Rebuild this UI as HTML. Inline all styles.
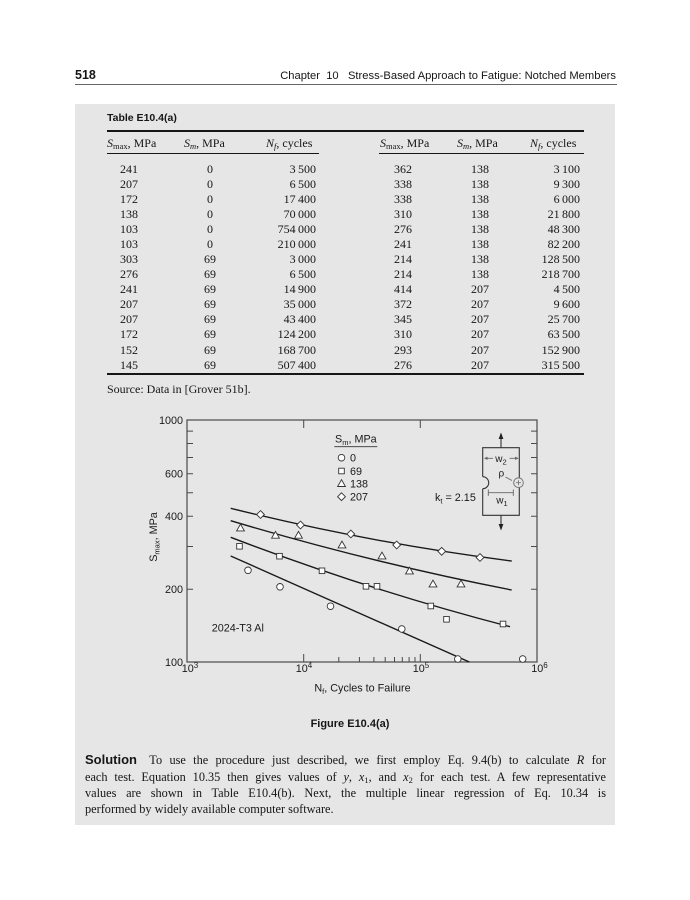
<!DOCTYPE html>
<html><head><meta charset="utf-8">
<style>
html,body{margin:0;padding:0;background:#fff;}
#pg{position:relative;width:690px;height:900px;overflow:hidden;background:#fff;color:#161616;}
.a{position:absolute;white-space:nowrap;}
.sans{font-family:"Liberation Sans",sans-serif;}
.serif{font-family:"Liberation Serif",serif;}
#box{position:absolute;left:75px;top:104px;width:540px;height:721px;background:#e6e6e6;}
.rule{position:absolute;background:#161616;}
.row{position:absolute;left:0;width:690px;height:15px;font-family:"Liberation Serif",serif;font-size:12px;line-height:15px;}
.row span{position:absolute;top:0;white-space:nowrap;}
.c1{left:112px;width:34px;text-align:center;}
.c2{left:193px;width:34px;text-align:center;}
.c3{left:240px;width:76px;text-align:right;}
.c4{left:386px;width:34px;text-align:center;}
.c5{left:463px;width:34px;text-align:center;}
.c6{left:504px;width:76px;text-align:right;}
.hd span{position:absolute;top:0;white-space:nowrap;}
sub.s{font-size:8.5px;vertical-align:-2px;line-height:0;}
.para{position:absolute;left:85px;width:521px;font-family:"Liberation Serif",serif;font-size:12.3px;line-height:16px;text-align:justify;text-align-last:justify;color:#161616;}
.para sub{font-size:8.5px;vertical-align:-2px;line-height:0;}
svg text{font-family:"Liberation Sans",sans-serif;fill:#1a1a1a;}
</style></head>
<body>
<div id="pg">
  <!-- header -->
  <div class="a sans" style="left:75px;top:67px;font-size:12.5px;font-weight:bold;line-height:16px;">518</div>
  <div class="a sans" style="right:74px;top:69px;font-size:11.2px;line-height:14px;white-space:pre;">Chapter  10   Stress-Based Approach to Fatigue: Notched Members</div>
  <div class="rule" style="left:75px;top:83.5px;width:542px;height:1.2px;background:#666;"></div>

  <div id="box"></div>

  <!-- table -->
  <div class="a sans" style="left:107px;top:111px;font-size:10.5px;font-weight:bold;line-height:14px;">Table E10.4(a)</div>
  <div class="rule" style="left:107px;top:130.3px;width:477px;height:1.5px;"></div>
  <div class="row hd" style="top:135.5px;">
    <span style="left:107px;"><i>S</i><sub class="s">max</sub>, MPa</span>
    <span style="left:184px;"><i>S<sub class="s">m</sub></i>, MPa</span>
    <span style="left:266px;"><i>N<sub class="s">f</sub></i>, cycles</span>
    <span style="left:380px;"><i>S</i><sub class="s">max</sub>, MPa</span>
    <span style="left:457px;"><i>S<sub class="s">m</sub></i>, MPa</span>
    <span style="left:530px;"><i>N<sub class="s">f</sub></i>, cycles</span>
  </div>
  <div class="rule" style="left:107px;top:152.5px;width:212px;height:1px;"></div>
  <div class="rule" style="left:379px;top:152.5px;width:205px;height:1px;"></div>

  <div class="row" style="top:161.5px;"><span class="c1">241</span><span class="c2">0</span><span class="c3">3&#8201;500</span><span class="c4">362</span><span class="c5">138</span><span class="c6">3&#8201;100</span></div>
  <div class="row" style="top:176.6px;"><span class="c1">207</span><span class="c2">0</span><span class="c3">6&#8201;500</span><span class="c4">338</span><span class="c5">138</span><span class="c6">9&#8201;300</span></div>
  <div class="row" style="top:191.7px;"><span class="c1">172</span><span class="c2">0</span><span class="c3">17&#8201;400</span><span class="c4">338</span><span class="c5">138</span><span class="c6">6&#8201;000</span></div>
  <div class="row" style="top:206.7px;"><span class="c1">138</span><span class="c2">0</span><span class="c3">70&#8201;000</span><span class="c4">310</span><span class="c5">138</span><span class="c6">21&#8201;800</span></div>
  <div class="row" style="top:221.8px;"><span class="c1">103</span><span class="c2">0</span><span class="c3">754&#8201;000</span><span class="c4">276</span><span class="c5">138</span><span class="c6">48&#8201;300</span></div>
  <div class="row" style="top:236.9px;"><span class="c1">103</span><span class="c2">0</span><span class="c3">210&#8201;000</span><span class="c4">241</span><span class="c5">138</span><span class="c6">82&#8201;200</span></div>
  <div class="row" style="top:252.0px;"><span class="c1">303</span><span class="c2">69</span><span class="c3">3&#8201;000</span><span class="c4">214</span><span class="c5">138</span><span class="c6">128&#8201;500</span></div>
  <div class="row" style="top:267.1px;"><span class="c1">276</span><span class="c2">69</span><span class="c3">6&#8201;500</span><span class="c4">214</span><span class="c5">138</span><span class="c6">218&#8201;700</span></div>
  <div class="row" style="top:282.1px;"><span class="c1">241</span><span class="c2">69</span><span class="c3">14&#8201;900</span><span class="c4">414</span><span class="c5">207</span><span class="c6">4&#8201;500</span></div>
  <div class="row" style="top:297.2px;"><span class="c1">207</span><span class="c2">69</span><span class="c3">35&#8201;000</span><span class="c4">372</span><span class="c5">207</span><span class="c6">9&#8201;600</span></div>
  <div class="row" style="top:312.3px;"><span class="c1">207</span><span class="c2">69</span><span class="c3">43&#8201;400</span><span class="c4">345</span><span class="c5">207</span><span class="c6">25&#8201;700</span></div>
  <div class="row" style="top:327.4px;"><span class="c1">172</span><span class="c2">69</span><span class="c3">124&#8201;200</span><span class="c4">310</span><span class="c5">207</span><span class="c6">63&#8201;500</span></div>
  <div class="row" style="top:342.5px;"><span class="c1">152</span><span class="c2">69</span><span class="c3">168&#8201;700</span><span class="c4">293</span><span class="c5">207</span><span class="c6">152&#8201;900</span></div>
  <div class="row" style="top:357.5px;"><span class="c1">145</span><span class="c2">69</span><span class="c3">507&#8201;400</span><span class="c4">276</span><span class="c5">207</span><span class="c6">315&#8201;500</span></div>

  <div class="rule" style="left:107px;top:373.3px;width:477px;height:1.5px;"></div>
  <div class="a serif" style="left:107px;top:381.5px;font-size:12px;line-height:15px;">Source: Data in [Grover 51b].</div>

  <!-- chart -->
  <svg class="a" style="left:0;top:0;" width="690" height="900" viewBox="0 0 690 900" xmlns="http://www.w3.org/2000/svg">
    <defs>
      <circle id="mc" r="3.3"/>
      <rect id="ms" x="-2.8" y="-2.8" width="5.6" height="5.6"/>
      <polygon id="mt" points="0,-3.9 -3.9,2.9 3.9,2.9"/>
      <polygon id="md" points="0,-3.9 3.9,0 0,3.9 -3.9,0"/>
    </defs>
    <rect x="187" y="420" width="350" height="242" fill="none" stroke="#4a4a4a" stroke-width="1.2"/>
    <g stroke="#4a4a4a" stroke-width="1">
      <path d="M187,431.1h6M187,443.5h6M187,457.5h6M187,473.7h6M187,492.8h6M187,516.3h6M187,546.5h6M187,589.2h6"/>
      <path d="M537,431.1h-6M537,443.5h-6M537,457.5h-6M537,473.7h-6M537,492.8h-6M537,516.3h-6M537,546.5h-6M537,589.2h-6"/>
      <path d="M303.7,662v-8M420.3,662v-8M303.7,420v8M420.3,420v8"/>
      <path d="M338.8,662v-5M359.4,662v-5M373.9,662v-5M385.2,662v-5M394.5,662v-5M402.3,662v-5M409.1,662v-5M415,662v-5"/>
    </g>
    <g font-size="10.8" text-anchor="end">
      <text x="183" y="423.8">1000</text>
      <text x="183" y="477.5">600</text>
      <text x="183" y="520.1">400</text>
      <text x="183" y="593">200</text>
      <text x="183" y="665.8">100</text>
    </g>
    <g font-size="10.8" text-anchor="middle">
      <text x="190" y="672">10<tspan dy="-4" font-size="8">3</tspan></text>
      <text x="304" y="672">10<tspan dy="-4" font-size="8">4</tspan></text>
      <text x="421" y="672">10<tspan dy="-4" font-size="8">5</tspan></text>
      <text x="539.5" y="672">10<tspan dy="-4" font-size="8">6</tspan></text>
    </g>
    <text x="362.5" y="691.5" font-size="10.8" text-anchor="middle">N<tspan dy="2.5" font-size="7.5">f</tspan><tspan dy="-2.5">, Cycles to Failure</tspan></text>
    <text transform="translate(157,537) rotate(-90)" font-size="10.8" text-anchor="middle">S<tspan dy="2.5" font-size="7.5">max</tspan><tspan dy="-2.5">, MPa</tspan></text>
    <text x="211.7" y="631.3" font-size="10.8">2024-T3 Al</text>

    <text x="335" y="442.5" font-size="10.8">S<tspan dy="2.5" font-size="7.5">m</tspan><tspan dy="-2.5">, MPa</tspan></text>
    <line x1="334.3" y1="446.7" x2="377.3" y2="446.7" stroke="#333" stroke-width="0.9"/>
    <g fill="#fff" stroke="#333" stroke-width="0.9">
      <use href="#mc" x="341.5" y="457.7"/>
      <use href="#ms" x="341.5" y="471"/>
      <use href="#mt" x="341.5" y="483.6"/>
      <use href="#md" x="341.5" y="496.7"/>
    </g>
    <g font-size="10.8">
      <text x="350" y="461.5">0</text>
      <text x="350" y="474.8">69</text>
      <text x="350" y="487.3">138</text>
      <text x="350" y="500.5">207</text>
    </g>

    <g fill="none" stroke="#333" stroke-width="1.1">
      <path d="M482.7,476.7V447.7H519.3V478M519.3,487.5V515.3H482.7V488.7"/>
      <path d="M482.7,476.7A6,6 0 0 1 482.7,488.7"/>
      <path d="M501,447.7V437M501,515.3V526"/>
    </g>
    <polygon points="501,432.5 498.6,439 503.4,439" fill="#222"/>
    <polygon points="501,530.5 498.6,524 503.4,524" fill="#222"/>
    <circle cx="518.5" cy="482.7" r="4.8" fill="none" stroke="#777" stroke-width="1"/>
    <path d="M516,482.7h5M518.5,480.2v5" stroke="#777" stroke-width="0.9"/>
    <g stroke="#666" stroke-width="0.9" fill="none">
      <path d="M485,458.3h8M509.5,458.3h8.3"/>
      <path d="M488.3,492.7h25M488.3,489.5v6.4M513.3,489.5v6.4"/>
      <path d="M505.5,477l6.5,3.5"/>
    </g>
    <polygon points="484,458.3 487.5,456.6 487.5,460" fill="#666"/>
    <polygon points="518.6,458.3 515.1,456.6 515.1,460" fill="#666"/>
    <text x="501" y="461.8" font-size="10" text-anchor="middle">w<tspan dy="2.5" font-size="7.5">2</tspan></text>
    <text x="498.5" y="476.5" font-size="10">ρ</text>
    <text x="502" y="503.5" font-size="10" text-anchor="middle">w<tspan dy="2.5" font-size="7.5">1</tspan></text>
    <text x="435" y="500.8" font-size="10.8">k<tspan dy="2.5" font-size="7.5">t</tspan><tspan dy="-2.5"> = 2.15</tspan></text>

    <g fill="none" stroke="#1a1a1a" stroke-width="1.4">
      <path d="M230.7,556L469.3,662"/>
      <path d="M230.7,537.3Q370.35,590.6 510,626.7"/>
      <path d="M230.7,520.7Q371.2,562.65 511.7,590"/>
      <path d="M230.7,508.3Q371.2,543.15 511.7,561"/>
    </g>

    <g fill="#fff" stroke="#333" stroke-width="0.9">
      <use href="#mc" x="248" y="570.3"/>
      <use href="#mc" x="280" y="586.8"/>
      <use href="#mc" x="330.5" y="606.2"/>
      <use href="#mc" x="401.8" y="629"/>
      <use href="#mc" x="457.8" y="659"/>
      <use href="#mc" x="522.7" y="659"/>
      <use href="#ms" x="239.5" y="546.3"/>
      <use href="#ms" x="279.5" y="556.2"/>
      <use href="#ms" x="322" y="570.8"/>
      <use href="#ms" x="366" y="586.3"/>
      <use href="#ms" x="377" y="586.3"/>
      <use href="#ms" x="430.8" y="606"/>
      <use href="#ms" x="446.5" y="619.3"/>
      <use href="#ms" x="503" y="624"/>
      <use href="#mt" x="240.5" y="528"/>
      <use href="#mt" x="275.5" y="535.3"/>
      <use href="#mt" x="298.5" y="535.3"/>
      <use href="#mt" x="342" y="545"/>
      <use href="#mt" x="382" y="556"/>
      <use href="#mt" x="409.5" y="571"/>
      <use href="#mt" x="433" y="584"/>
      <use href="#mt" x="461" y="584"/>
      <use href="#md" x="260.5" y="514.5"/>
      <use href="#md" x="300.5" y="525"/>
      <use href="#md" x="350.8" y="534"/>
      <use href="#md" x="396.7" y="545"/>
      <use href="#md" x="441.7" y="551.3"/>
      <use href="#md" x="480" y="557.5"/>
    </g>
  </svg>

  <div class="a sans" style="left:250px;width:200px;text-align:center;top:717px;font-size:11px;font-weight:bold;line-height:14px;">Figure E10.4(a)</div>

  <div class="para" style="top:752px;"><span class="sans" style="font-weight:bold;font-size:13px;">Solution</span>&ensp;&ensp;To use the procedure just described, we first employ Eq. 9.4(b) to calculate <i>R</i> for</div>
  <div class="para" style="top:768.5px;">each test. Equation 10.35 then gives values of <i>y</i>, <i>x</i><sub>1</sub>, and <i>x</i><sub>2</sub> for each test. A few representative</div>
  <div class="para" style="top:784.5px;">values are shown in Table E10.4(b). Next, the multiple linear regression of Eq. 10.34 is</div>
  <div class="para" style="top:800.5px;text-align-last:left;">performed by widely available computer software.</div>
</div>
</body></html>
